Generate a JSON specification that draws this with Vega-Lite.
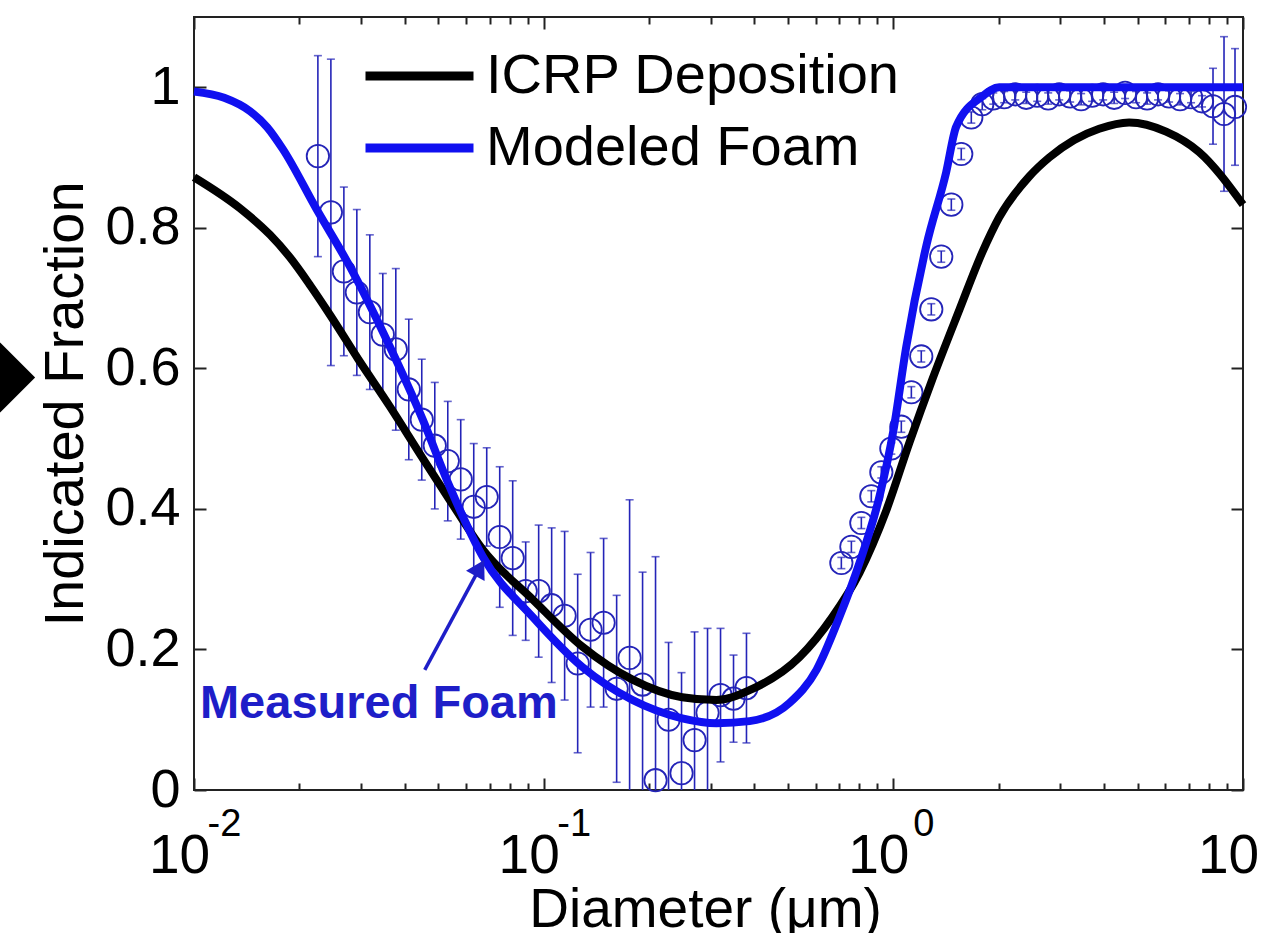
{
  "$schema": "https://vega.github.io/schema/vega-lite/v6.json",
  "width": 1049,
  "height": 773,
  "autosize": "none",
  "padding": {"left": 194, "top": 17, "right": 20, "bottom": 143},
  "background": "white",
  "config": {
    "view": {"stroke": "#222222", "strokeWidth": 2},
    "font": "Liberation Sans",
    "axis": {
      "domain": false, "grid": false, "tickColor": "#222222", "tickWidth": 2,
      "labelColor": "black", "labelFont": "Liberation Sans", "titleFont": "Liberation Sans",
      "titleColor": "black", "titleFontWeight": "normal", "labelFlush": false, "labelOverlap": false
    }
  },
  "datasets": {
    "curves": [
      {"series": "ICRP Deposition", "d": 0.01, "f": 0.872},
      {"series": "ICRP Deposition", "d": 0.01352, "f": 0.828},
      {"series": "ICRP Deposition", "d": 0.0165, "f": 0.79},
      {"series": "ICRP Deposition", "d": 0.0188, "f": 0.758},
      {"series": "ICRP Deposition", "d": 0.0215, "f": 0.718},
      {"series": "ICRP Deposition", "d": 0.0245, "f": 0.676},
      {"series": "ICRP Deposition", "d": 0.0295, "f": 0.613},
      {"series": "ICRP Deposition", "d": 0.0363, "f": 0.546},
      {"series": "ICRP Deposition", "d": 0.0451, "f": 0.472},
      {"series": "ICRP Deposition", "d": 0.0538, "f": 0.413},
      {"series": "ICRP Deposition", "d": 0.067, "f": 0.342},
      {"series": "ICRP Deposition", "d": 0.0931, "f": 0.271},
      {"series": "ICRP Deposition", "d": 0.129, "f": 0.204},
      {"series": "ICRP Deposition", "d": 0.1795, "f": 0.157},
      {"series": "ICRP Deposition", "d": 0.249, "f": 0.132},
      {"series": "ICRP Deposition", "d": 0.312, "f": 0.128},
      {"series": "ICRP Deposition", "d": 0.388, "f": 0.142},
      {"series": "ICRP Deposition", "d": 0.539, "f": 0.189},
      {"series": "ICRP Deposition", "d": 0.669, "f": 0.246},
      {"series": "ICRP Deposition", "d": 0.8, "f": 0.309},
      {"series": "ICRP Deposition", "d": 0.955, "f": 0.398},
      {"series": "ICRP Deposition", "d": 1.111, "f": 0.494},
      {"series": "ICRP Deposition", "d": 1.292, "f": 0.584},
      {"series": "ICRP Deposition", "d": 1.544, "f": 0.683},
      {"series": "ICRP Deposition", "d": 1.796, "f": 0.765},
      {"series": "ICRP Deposition", "d": 2.008, "f": 0.815},
      {"series": "ICRP Deposition", "d": 2.447, "f": 0.873},
      {"series": "ICRP Deposition", "d": 2.791, "f": 0.9},
      {"series": "ICRP Deposition", "d": 3.289, "f": 0.925},
      {"series": "ICRP Deposition", "d": 3.879, "f": 0.941},
      {"series": "ICRP Deposition", "d": 4.724, "f": 0.95},
      {"series": "ICRP Deposition", "d": 6.026, "f": 0.937},
      {"series": "ICRP Deposition", "d": 7.486, "f": 0.908},
      {"series": "ICRP Deposition", "d": 10, "f": 0.833},
      {"series": "Modeled Foam", "d": 0.01, "f": 0.994},
      {"series": "Modeled Foam", "d": 0.0122, "f": 0.985},
      {"series": "Modeled Foam", "d": 0.01445, "f": 0.966},
      {"series": "Modeled Foam", "d": 0.0162, "f": 0.943},
      {"series": "Modeled Foam", "d": 0.01795, "f": 0.912},
      {"series": "Modeled Foam", "d": 0.02244, "f": 0.826},
      {"series": "Modeled Foam", "d": 0.0279, "f": 0.745},
      {"series": "Modeled Foam", "d": 0.0363, "f": 0.631},
      {"series": "Modeled Foam", "d": 0.0451, "f": 0.527},
      {"series": "Modeled Foam", "d": 0.0538, "f": 0.432},
      {"series": "Modeled Foam", "d": 0.067, "f": 0.332},
      {"series": "Modeled Foam", "d": 0.0931, "f": 0.246},
      {"series": "Modeled Foam", "d": 0.129, "f": 0.175},
      {"series": "Modeled Foam", "d": 0.1795, "f": 0.128},
      {"series": "Modeled Foam", "d": 0.249, "f": 0.102},
      {"series": "Modeled Foam", "d": 0.312, "f": 0.095},
      {"series": "Modeled Foam", "d": 0.388, "f": 0.098},
      {"series": "Modeled Foam", "d": 0.505, "f": 0.124},
      {"series": "Modeled Foam", "d": 0.603, "f": 0.171},
      {"series": "Modeled Foam", "d": 0.701, "f": 0.246},
      {"series": "Modeled Foam", "d": 0.8, "f": 0.323},
      {"series": "Modeled Foam", "d": 0.912, "f": 0.417},
      {"series": "Modeled Foam", "d": 1.0, "f": 0.511},
      {"series": "Modeled Foam", "d": 1.089, "f": 0.631},
      {"series": "Modeled Foam", "d": 1.242, "f": 0.774},
      {"series": "Modeled Foam", "d": 1.416, "f": 0.879},
      {"series": "Modeled Foam", "d": 1.513, "f": 0.944},
      {"series": "Modeled Foam", "d": 1.796, "f": 0.987},
      {"series": "Modeled Foam", "d": 2.008, "f": 1.0},
      {"series": "Modeled Foam", "d": 10, "f": 1.0}
    ],
    "measured": [
      {"d": 0.02261, "f": 0.902, "lo": 0.759, "hi": 1.045},
      {"d": 0.02463, "f": 0.822, "lo": 0.604, "hi": 1.04},
      {"d": 0.02683, "f": 0.738, "lo": 0.618, "hi": 0.858},
      {"d": 0.02922, "f": 0.708, "lo": 0.59, "hi": 0.826},
      {"d": 0.03183, "f": 0.68, "lo": 0.57, "hi": 0.79},
      {"d": 0.03467, "f": 0.648, "lo": 0.561, "hi": 0.735},
      {"d": 0.03777, "f": 0.627, "lo": 0.512, "hi": 0.742},
      {"d": 0.04114, "f": 0.57, "lo": 0.47, "hi": 0.67},
      {"d": 0.04481, "f": 0.527, "lo": 0.441, "hi": 0.613},
      {"d": 0.04882, "f": 0.49, "lo": 0.4, "hi": 0.58},
      {"d": 0.05318, "f": 0.468, "lo": 0.383, "hi": 0.553},
      {"d": 0.05792, "f": 0.442, "lo": 0.357, "hi": 0.527},
      {"d": 0.0631, "f": 0.403, "lo": 0.313, "hi": 0.493},
      {"d": 0.06873, "f": 0.417, "lo": 0.347, "hi": 0.487},
      {"d": 0.07487, "f": 0.36, "lo": 0.26, "hi": 0.46},
      {"d": 0.08155, "f": 0.33, "lo": 0.22, "hi": 0.44},
      {"d": 0.08884, "f": 0.283, "lo": 0.213, "hi": 0.353},
      {"d": 0.09676, "f": 0.283, "lo": 0.189, "hi": 0.377},
      {"d": 0.1054, "f": 0.263, "lo": 0.153, "hi": 0.373},
      {"d": 0.1148, "f": 0.248, "lo": 0.128, "hi": 0.368},
      {"d": 0.1251, "f": 0.18, "lo": 0.053, "hi": 0.307},
      {"d": 0.1362, "f": 0.228, "lo": 0.118, "hi": 0.338},
      {"d": 0.1484, "f": 0.238, "lo": 0.118, "hi": 0.358},
      {"d": 0.1617, "f": 0.144, "lo": 0.011, "hi": 0.277},
      {"d": 0.1761, "f": 0.188, "lo": -0.037, "hi": 0.413},
      {"d": 0.1918, "f": 0.15, "lo": -0.01, "hi": 0.31},
      {"d": 0.2089, "f": 0.014, "lo": -0.304, "hi": 0.332},
      {"d": 0.2276, "f": 0.1, "lo": -0.01, "hi": 0.21},
      {"d": 0.2479, "f": 0.024, "lo": -0.119, "hi": 0.167},
      {"d": 0.2701, "f": 0.071, "lo": -0.083, "hi": 0.225},
      {"d": 0.2942, "f": 0.11, "lo": -0.01, "hi": 0.23},
      {"d": 0.3205, "f": 0.135, "lo": 0.04, "hi": 0.23},
      {"d": 0.3491, "f": 0.13, "lo": 0.068, "hi": 0.192},
      {"d": 0.3802, "f": 0.145, "lo": 0.067, "hi": 0.223},
      {"d": 0.7101, "f": 0.323, "lo": 0.315, "hi": 0.331},
      {"d": 0.7586, "f": 0.346, "lo": 0.338, "hi": 0.354},
      {"d": 0.81, "f": 0.38, "lo": 0.372, "hi": 0.388},
      {"d": 0.865, "f": 0.418, "lo": 0.41, "hi": 0.426},
      {"d": 0.924, "f": 0.452, "lo": 0.444, "hi": 0.46},
      {"d": 0.9869, "f": 0.486, "lo": 0.478, "hi": 0.494},
      {"d": 1.054, "f": 0.517, "lo": 0.509, "hi": 0.525},
      {"d": 1.126, "f": 0.566, "lo": 0.558, "hi": 0.574},
      {"d": 1.202, "f": 0.617, "lo": 0.609, "hi": 0.625},
      {"d": 1.284, "f": 0.684, "lo": 0.676, "hi": 0.692},
      {"d": 1.371, "f": 0.759, "lo": 0.751, "hi": 0.767},
      {"d": 1.465, "f": 0.833, "lo": 0.825, "hi": 0.841},
      {"d": 1.564, "f": 0.905, "lo": 0.897, "hi": 0.913},
      {"d": 1.671, "f": 0.957, "lo": 0.949, "hi": 0.965},
      {"d": 1.796, "f": 0.976, "lo": 0.968, "hi": 0.984},
      {"d": 1.931, "f": 0.984, "lo": 0.976, "hi": 0.992},
      {"d": 2.075, "f": 0.986, "lo": 0.978, "hi": 0.994},
      {"d": 2.232, "f": 0.99, "lo": 0.982, "hi": 0.998},
      {"d": 2.399, "f": 0.985, "lo": 0.977, "hi": 0.993},
      {"d": 2.579, "f": 0.988, "lo": 0.98, "hi": 0.996},
      {"d": 2.773, "f": 0.984, "lo": 0.976, "hi": 0.992},
      {"d": 2.981, "f": 0.99, "lo": 0.982, "hi": 0.998},
      {"d": 3.204, "f": 0.987, "lo": 0.979, "hi": 0.995},
      {"d": 3.444, "f": 0.983, "lo": 0.975, "hi": 0.991},
      {"d": 3.703, "f": 0.988, "lo": 0.98, "hi": 0.996},
      {"d": 3.981, "f": 0.99, "lo": 0.982, "hi": 0.998},
      {"d": 4.28, "f": 0.985, "lo": 0.977, "hi": 0.993},
      {"d": 4.601, "f": 0.992, "lo": 0.984, "hi": 1.0},
      {"d": 4.946, "f": 0.986, "lo": 0.978, "hi": 0.994},
      {"d": 5.318, "f": 0.984, "lo": 0.976, "hi": 0.992},
      {"d": 5.716, "f": 0.99, "lo": 0.982, "hi": 0.998},
      {"d": 6.146, "f": 0.987, "lo": 0.979, "hi": 0.995},
      {"d": 6.607, "f": 0.983, "lo": 0.975, "hi": 0.991},
      {"d": 7.103, "f": 0.986, "lo": 0.978, "hi": 0.994},
      {"d": 7.636, "f": 0.98, "lo": 0.972, "hi": 0.988},
      {"d": 8.208, "f": 0.973, "lo": 0.919, "hi": 1.027},
      {"d": 8.825, "f": 0.962, "lo": 0.852, "hi": 1.072},
      {"d": 9.487, "f": 0.972, "lo": 0.889, "hi": 1.055}
    ],
    "annot": [{"d": 0.0104, "f": 0.1026, "t": "Measured Foam"}],
    "arrow": [{"d": 0.0457, "f": 0.171, "d2": 0.06565, "f2": 0.316}],
    "marker": [{"d": 0.00279, "f": 0.587}]
  },
  "resolve": {"scale": {"x": "shared", "y": "shared"}, "axis": {"x": "independent", "y": "independent"}},
  "layer": [
    {
      "data": {"name": "measured"},
      "mark": {"type": "rule", "color": "#2424b8", "strokeWidth": 1.6, "clip": true},
      "encoding": {
        "x": {"field": "d", "type": "quantitative", "scale": {"type": "log", "domain": [0.01, 10], "nice": false},
          "axis": {"orient": "bottom", "values": [0.02,0.03,0.04,0.05,0.06,0.07,0.08,0.09,0.2,0.3,0.4,0.5,0.6,0.7,0.8,0.9,2,3,4,5,6,7,8,9], "tickSize": -7, "labels": false, "title": null}},
        "y": {"field": "lo", "type": "quantitative", "scale": {"domain": [0, 1.1], "nice": false, "zero": false},
          "axis": {"orient": "right", "values": [0,0.2,0.4,0.6,0.8,1], "tickSize": -12, "labels": false, "title": null}},
        "y2": {"field": "hi"}
      }
    },
    {
      "data": {"name": "measured"},
      "mark": {"type": "point", "shape": "M-1,0L1,0", "size": 64, "filled": false, "color": "#2424b8", "strokeWidth": 1.6, "clip": true},
      "encoding": {
        "x": {"field": "d", "type": "quantitative", "scale": {"type": "log", "domain": [0.01, 10], "nice": false},
          "axis": {"orient": "top", "values": [0.01, 0.1, 1, 10], "tickSize": -12, "labels": false, "title": null}},
        "y": {"field": "lo", "type": "quantitative", "scale": {"domain": [0, 1.1], "nice": false, "zero": false}, "axis": null}
      }
    },
    {
      "data": {"name": "measured"},
      "mark": {"type": "point", "shape": "M-1,0L1,0", "size": 64, "filled": false, "color": "#2424b8", "strokeWidth": 1.6, "clip": true},
      "encoding": {
        "x": {"field": "d", "type": "quantitative", "scale": {"type": "log", "domain": [0.01, 10], "nice": false},
          "axis": {"orient": "top", "values": [0.02,0.03,0.04,0.05,0.06,0.07,0.08,0.09,0.2,0.3,0.4,0.5,0.6,0.7,0.8,0.9,2,3,4,5,6,7,8,9], "tickSize": -7, "labels": false, "title": null}},
        "y": {"field": "hi", "type": "quantitative", "scale": {"domain": [0, 1.1], "nice": false, "zero": false}, "axis": null}
      }
    },
    {
      "data": {"name": "measured"},
      "mark": {"type": "point", "shape": "circle", "size": 500, "filled": false, "color": "#2424b8", "strokeWidth": 1.8, "opacity": 1},
      "encoding": {
        "x": {"field": "d", "type": "quantitative", "scale": {"type": "log", "domain": [0.01, 10], "nice": false},
          "axis": {"orient": "bottom", "values": [0.01, 0.1, 1, 10], "ticks": false, "tickSize": 0, "labelFontSize": 38, "labelOffset": 30, "labelBaseline": "alphabetic", "labelPadding": 45,
            "labelExpr": "datum.value < 0.05 ? '-2' : datum.value < 0.5 ? '-1' : datum.value < 5 ? '0' : '1'", "title": null}},
        "y": {"field": "f", "type": "quantitative", "scale": {"domain": [0, 1.1], "nice": false, "zero": false}, "axis": null}
      }
    },
    {
      "data": {"name": "curves"},
      "mark": {"type": "line", "strokeWidth": 8, "interpolate": "monotone"},
      "encoding": {
        "x": {"field": "d", "type": "quantitative", "scale": {"type": "log", "domain": [0.01, 10], "nice": false},
          "axis": {"orient": "bottom", "values": [0.01, 0.1, 1, 10], "tickSize": -12, "labelExpr": "'10'", "labelFontSize": 55, "labelOffset": -15, "labelBaseline": "alphabetic", "labelPadding": 94,
            "title": "Diameter (μm)", "titleFontSize": 55, "titlePadding": 0, "titleX": 511}},
        "y": {"field": "f", "type": "quantitative", "scale": {"domain": [0, 1.1], "nice": false, "zero": false},
          "axis": {"orient": "left", "values": [0, 0.2, 0.4, 0.6, 0.8, 1], "tickSize": -12, "labelExpr": "'' + datum.value", "labelFontSize": 54, "labelPadding": 26,
            "title": "Indicated Fraction", "titleFontSize": 56, "titlePadding": 10}},
        "color": {"field": "series", "type": "nominal",
          "scale": {"domain": ["ICRP Deposition", "Modeled Foam"], "range": ["#000000", "#1010f0"]},
          "legend": {"orient": "none", "legendX": 167, "legendY": 31, "title": null, "symbolType": "stroke", "symbolSize": 11664, "symbolStrokeWidth": 9,
            "clipHeight": 56, "labelFontSize": 56, "labelFont": "Liberation Sans", "labelColor": "black", "labelOffset": 8, "rowPadding": 16, "labelLimit": 0, "padding": 0}}
      }
    },
    {
      "data": {"name": "annot"},
      "mark": {"type": "text", "align": "left", "baseline": "alphabetic", "fontSize": 47, "fontWeight": "bold", "color": "#1e1ec8", "font": "Liberation Sans"},
      "encoding": {
        "x": {"field": "d", "type": "quantitative", "scale": {"type": "log", "domain": [0.01, 10], "nice": false}, "axis": null},
        "y": {"field": "f", "type": "quantitative", "scale": {"domain": [0, 1.1], "nice": false, "zero": false}, "axis": null},
        "text": {"field": "t"}
      }
    },
    {
      "data": {"name": "arrow"},
      "mark": {"type": "rule", "color": "#1e1ec8", "strokeWidth": 3.5},
      "encoding": {
        "x": {"field": "d", "type": "quantitative", "scale": {"type": "log", "domain": [0.01, 10], "nice": false}, "axis": null},
        "y": {"field": "f", "type": "quantitative", "scale": {"domain": [0, 1.1], "nice": false, "zero": false}, "axis": null},
        "x2": {"field": "d2"},
        "y2": {"field": "f2"}
      }
    },
    {
      "data": {"name": "arrow"},
      "mark": {"type": "point", "shape": "triangle-up", "size": 450, "filled": true, "color": "#1e1ec8", "angle": 29, "opacity": 1},
      "encoding": {
        "x": {"field": "d2", "type": "quantitative", "scale": {"type": "log", "domain": [0.01, 10], "nice": false}, "axis": null},
        "y": {"field": "f2", "type": "quantitative", "scale": {"domain": [0, 1.1], "nice": false, "zero": false}, "axis": null}
      }
    },
    {
      "data": {"name": "marker"},
      "mark": {"type": "point", "shape": "diamond", "size": 4900, "filled": true, "color": "#000000", "opacity": 1, "clip": false},
      "encoding": {
        "x": {"field": "d", "type": "quantitative", "scale": {"type": "log", "domain": [0.01, 10], "nice": false}, "axis": null},
        "y": {"field": "f", "type": "quantitative", "scale": {"domain": [0, 1.1], "nice": false, "zero": false}, "axis": null}
      }
    }
  ]
}
